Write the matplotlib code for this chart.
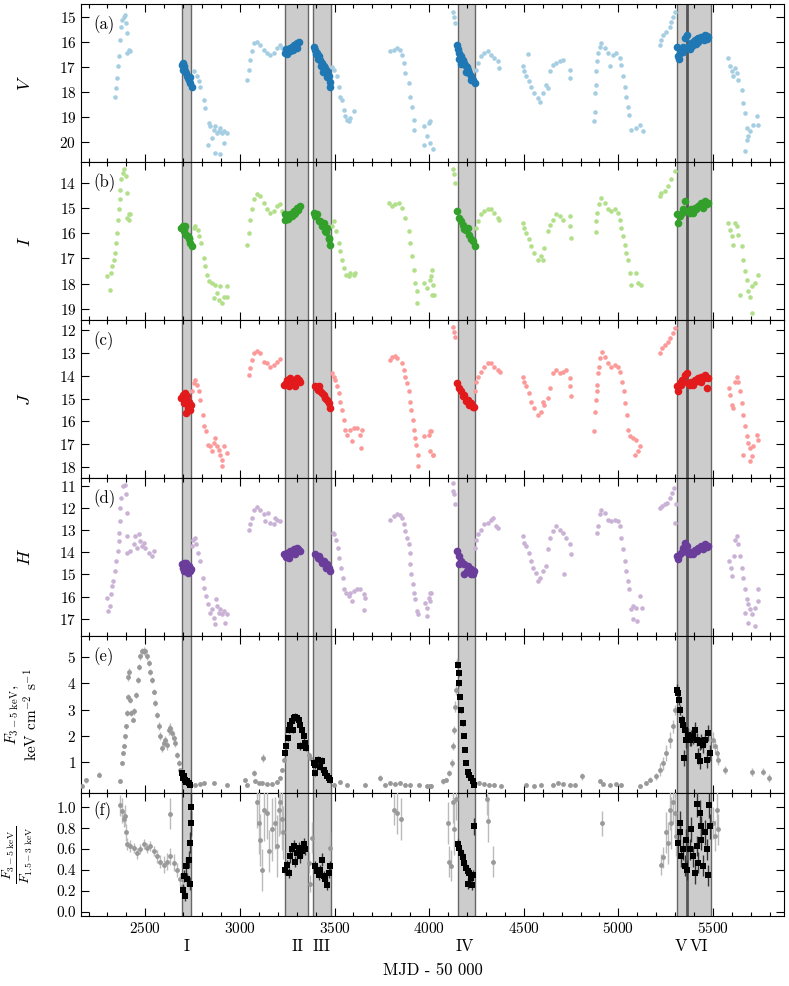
import numpy as np
import matplotlib
matplotlib.use('Agg')
import matplotlib.pyplot as plt
from matplotlib.ticker import MultipleLocator, FormatStrFormatter
import matplotlib.transforms as mtransforms

plt.rcParams['font.family'] = 'cmr10'
plt.rcParams['mathtext.fontset'] = 'cm'
plt.rcParams['axes.formatter.use_mathtext'] = True
plt.rcParams['font.size'] = 11

# ---- shaded intervals (MJD - 50000) ----
regions = [(2694, 2743), (3236, 3359), (3384, 3481), (4150, 4242), (5307, 5489)]
split_line = 5362
region_names = ['I', 'II', 'III', 'IV', 'V', 'VI']
region_pos = [2720, 3305, 3433, 4188, 5333, 5426]

# ---- V band ----
v_t = [2342, 2347, 2351, 2356, 2363, 2368, 2372, 2377, 2386, 2395, 2398, 2404, 2404, 2412, 2421,
       2756, 2773, 2782, 2787, 2809, 2817, 2831, 2835, 2844, 2853, 2861, 2870, 2870, 2879, 2888, 2897, 2897, 2905, 2914, 2914, 2932,
       3037, 3046, 3055, 3064, 3073, 3090, 3108, 3126, 3143, 3161, 3178, 3196, 3214, 3222,
       3487, 3495, 3513, 3522, 3530, 3539, 3548, 3557, 3566, 3575, 3583, 3601,
       3795, 3812, 3830, 3848, 3856, 3865, 3874, 3892, 3900, 3909, 3918, 3922, 3970, 3970, 3988, 3997, 4006, 4006, 4020,
       4124, 4132, 4138,
       4247, 4256, 4274, 4291, 4309, 4327, 4344, 4362, 4371,
       4494, 4503, 4512, 4521, 4530, 4539, 4556, 4574, 4583, 4600, 4618, 4627, 4636, 4653, 4671, 4689, 4706, 4742, 4745,
       4871, 4874, 4878, 4879, 4883, 4886, 4892, 4901, 4909, 4927, 4945, 4954, 4971, 4989, 5007, 5015, 5024, 5033, 5042, 5051, 5056, 5068, 5095, 5113, 5130,
       5219, 5227, 5236, 5254, 5272, 5280, 5289, 5298,
       5581, 5589, 5598, 5607, 5616, 5625, 5634, 5651, 5660, 5669, 5669, 5678, 5678, 5687, 5695, 5713, 5731, 5740]
v_mag = [18.19, 17.86, 17.46, 16.99, 16.59, 15.93, 15.40, 15.13, 15.0, 14.93, 15.27, 15.66, 16.46, 16.33, 16.39,
         17.19, 17.39, 17.59, 17.79, 18.32, 18.65, 20.11, 19.25, 19.38, 19.85, 19.52, 19.38, 20.44, 19.65, 19.58, 19.45, 20.47, 19.65, 19.58, 20.05, 19.65,
         17.52, 17.12, 16.73, 16.39, 16.06, 16.0, 16.13, 16.33, 16.46, 16.53, 16.46, 16.26, 16.13, 16.26,
         17.0, 17.12, 17.39, 17.79, 18.19, 18.32, 18.72, 18.98, 19.12, 19.18, 19.05, 18.78,
         16.39, 16.33, 16.26, 16.33, 16.53, 16.86, 17.26, 17.66, 18.19, 18.59, 19.12, 19.52, 19.38, 20.11, 19.78, 19.25, 19.18, 20.05, 20.29,
         14.8, 15.0, 15.27,
         17.12, 16.86, 16.59, 16.46, 16.39, 16.53, 16.66, 16.79, 17.06,
         16.99, 17.19, 17.39, 16.5, 17.59, 17.79, 18.05, 18.25, 18.39, 18.05, 17.72, 17.86, 17.19, 16.93, 16.86, 16.79, 16.73, 17.12, 17.46,
         19.18, 18.79, 18.05, 17.72, 17.19, 16.79, 16.46, 16.2, 16.06, 16.26, 16.46, 16.99, 16.53, 16.46, 16.66, 16.93, 17.39, 17.79, 18.19, 18.59, 18.92, 19.52, 19.45, 19.32, 19.58,
         16.13, 15.93, 15.73, 15.6, 15.4, 15.2, 15.0, 14.8,
         16.66, 16.99, 17.19, 17.39, 17.06, 17.26, 17.52, 17.92, 18.45, 18.85, 20.38, 19.45, 19.91, 19.78, 19.58, 19.32, 18.98, 19.32]
v_dt = [2694, 2699, 2705, 2712, 2720, 2729, 2738, 2745, 2703, 2716, 2725, 2700, 2735,
        3240, 3248, 3258, 3267, 3276, 3285, 3294, 3303, 3310, 3245, 3265, 3290, 3250, 3280, 3300,
        3390, 3398, 3407, 3416, 3425, 3434, 3443, 3451, 3460, 3469, 3478, 3400, 3430, 3410, 3440, 3460, 3475,
        4145, 4150, 4159, 4168, 4177, 4185, 4194, 4203, 4212, 4221, 4230, 4242, 4160, 4200, 4170, 4195, 4220,
        5310, 5316, 5325, 5333, 5342, 5351, 5360, 5320, 5340,
        5369, 5378, 5386, 5395, 5404, 5413, 5422, 5430, 5439, 5448, 5457, 5466, 5475, 5390, 5420, 5380, 5410, 5450, 5470]
v_dmag = [16.93, 16.86, 17.06, 17.19, 17.39, 17.52, 17.66, 17.79, 16.99, 17.26, 17.46, 17.15, 17.4,
          16.46, 16.39, 16.33, 16.26, 16.2, 16.13, 16.1, 16.06, 16.0, 16.3, 16.39, 16.2, 16.5, 16.35, 16.25,
          16.2, 16.33, 16.46, 16.59, 16.73, 16.86, 16.99, 17.06, 17.19, 17.39, 17.6, 16.5, 16.99, 16.7, 17.2, 17.4, 17.8,
          16.13, 16.3, 16.46, 16.59, 16.73, 16.86, 16.99, 17.12, 17.26, 17.39, 17.52, 17.66, 16.7, 17.0, 16.9, 17.2, 17.55,
          16.2, 16.59, 16.46, 16.33, 16.2, 15.86, 15.73, 16.7, 16.4,
          16.2, 16.13, 16.06, 16.0, 15.93, 15.9, 15.86, 15.86, 15.8, 15.8, 15.73, 15.76, 15.8, 16.16, 16.0, 16.3, 16.1, 15.95, 15.9]

# ---- I band ----
i_t = [2298, 2315, 2319, 2324, 2333, 2342, 2347, 2351, 2356, 2360, 2365, 2368, 2374, 2381, 2389, 2398, 2404, 2404, 2412, 2421, 2412,
       2756, 2765, 2777, 2786, 2795, 2809, 2817, 2826, 2835, 2853, 2870, 2879, 2888, 2905, 2914, 2932, 2897, 2932, 2861,
       3037, 3046, 3055, 3064, 3073, 3090, 3108, 3126, 3143, 3161, 3178, 3196, 3214, 3222,
       3487, 3499, 3509, 3522, 3530, 3539, 3548, 3562, 3583, 3601, 3610, 3575,
       3786, 3804, 3821, 3839, 3856, 3874, 3892, 3900, 3909, 3918, 3923, 3936, 3936, 3970, 3988, 4006, 4015, 4024,
       4009, 4018, 4014, 4124, 4132, 4138,
       4247, 4256, 4274, 4291, 4309, 4327, 4344, 4362, 4371,
       4494, 4503, 4512, 4530, 4539, 4556, 4574, 4592, 4609, 4627, 4636, 4653, 4671, 4689, 4706, 4742, 4745, 4751, 4600,
       4879, 4883, 4889, 4897, 4909, 4927, 4945, 4962, 4980, 4998, 5007, 5015, 5024, 5033, 5042, 5051, 5060, 5068, 5095, 5104, 5121,
       5219, 5227, 5245, 5263, 5280, 5298,
       5581, 5589, 5598, 5607, 5616, 5625, 5634, 5651, 5660, 5669, 5678, 5687, 5695, 5704, 5722, 5740, 5704, 5642]
i_mag = [17.71, 18.27, 17.58, 17.32, 17.05, 16.79, 16.39, 15.99, 15.46, 15.06, 14.66, 14.27, 13.87, 13.6, 13.47, 13.73, 14.4, 15.39, 15.26, 15.26, 15.46,
         15.79, 15.72, 15.86, 16.12, 16.39, 16.98, 17.32, 17.65, 17.91, 17.98, 18.05, 18.38, 18.64, 18.77, 18.51, 18.11, 18.11, 18.51, 18.58,
         16.45, 15.99, 15.46, 15.06, 14.66, 14.46, 14.53, 14.8, 15.06, 15.19, 15.13, 14.93, 14.86, 15.13,
         15.72, 15.53, 15.92, 16.39, 16.72, 17.05, 17.38, 17.65, 17.58, 17.65, 17.58, 17.71,
         14.8, 14.93, 14.86, 14.8, 14.99, 15.39, 15.92, 16.39, 16.92, 17.45, 17.98, 18.31, 18.77, 17.98, 18.18, 17.85, 17.45, 18.44,
         17.71, 18.05, 18.44, 13.47, 13.67, 14.0,
         15.79, 15.53, 15.26, 15.13, 15.03, 15.06, 15.19, 15.39, 15.46,
         15.59, 15.79, 15.99, 16.25, 16.52, 16.79, 17.05, 16.92, 16.59, 15.92, 15.66, 15.46, 15.26, 15.33, 15.46, 15.33, 15.72, 16.19, 17.05,
         15.96, 15.53, 15.19, 14.86, 14.6, 14.8, 15.06, 15.13, 15.06, 15.19, 15.46, 15.79, 16.12, 16.45, 16.79, 17.05, 17.58, 18.05, 17.58, 17.98, 18.05,
         14.53, 14.4, 14.33, 14.13, 13.87, 13.54,
         15.59, 15.86, 16.12, 16.45, 15.59, 15.72, 16.06, 16.52, 17.05, 17.51, 17.85, 18.31, 18.51, 18.11, 17.98, 17.65, 19.17, 18.44]
i_dt = [2691, 2699, 2706, 2717, 2729, 2738, 2747, 2712, 2724, 2704, 2733,
        3236, 3249, 3267, 3284, 3302, 3316, 3240, 3275, 3293, 3255, 3285, 3305,
        3390, 3398, 3416, 3434, 3451, 3469, 3478, 3407, 3443, 3460, 3425, 3455, 3472,
        4145, 4159, 4177, 4194, 4212, 4230, 4242, 4168, 4203, 4185, 4220,
        5310, 5316, 5328, 5342, 5351, 5335,
        5369, 5386, 5404, 5422, 5439, 5457, 5475, 5395, 5448, 5378, 5412, 5466]
i_dmag = [15.79, 15.72, 15.92, 16.06, 16.25, 16.39, 16.52, 15.72, 16.12, 15.85, 16.2,
          15.46, 15.39, 15.26, 15.13, 14.99, 14.93, 15.26, 15.33, 15.19, 15.45, 15.25, 15.1,
          15.19, 15.33, 15.53, 15.72, 15.92, 16.19, 16.45, 15.26, 15.59, 15.79, 15.5, 15.95, 16.25,
          15.13, 15.39, 15.66, 15.86, 16.06, 16.32, 16.52, 15.53, 15.79, 15.85, 16.25,
          15.26, 15.59, 15.33, 15.06, 14.73, 15.2,
          15.13, 15.06, 14.99, 14.93, 14.8, 14.73, 14.8, 15.19, 14.99, 15.2, 15.05, 14.85]

# ---- J band ----
j_t = [2747, 2756, 2765, 2773, 2782, 2791, 2805, 2812, 2823, 2831, 2844, 2853, 2870, 2879, 2888, 2897, 2905, 2914, 2932, 2905, 2861,
       3050, 3055, 3064, 3073, 3090, 3108, 3126, 3143, 3161, 3178, 3196, 3210,
       3487, 3495, 3504, 3513, 3522, 3530, 3539, 3548, 3557, 3566, 3583, 3601, 3619, 3636, 3645, 3640, 3592,
       3795, 3804, 3821, 3830, 3856, 3865, 3874, 3883, 3892, 3900, 3906, 3913, 3918, 3923, 3930, 3939, 3941, 3970, 3997, 4006, 4003, 4020,
       4009, 4018, 4124, 4132, 4138,
       4244, 4247, 4256, 4274, 4291, 4309, 4327, 4344, 4362, 4374,
       4494, 4503, 4512, 4530, 4539, 4556, 4574, 4592, 4609, 4627, 4636, 4653, 4671, 4689, 4706, 4724, 4742, 4745, 4747, 4600,
       4871, 4878, 4883, 4886, 4889, 4892, 4897, 4904, 4915, 4927, 4945, 4962, 4980, 4998, 5010, 5019, 5028, 5037, 5046, 5051, 5060, 5077, 5095, 5113, 5086, 5104,
       5219, 5231, 5245, 5263, 5275, 5289, 5298,
       5586, 5589, 5598, 5607, 5616, 5625, 5634, 5642, 5651, 5660, 5669, 5678, 5687, 5695, 5704, 5713, 5731, 5740, 5660, 5695]
j_mag = [14.69, 14.33, 14.18, 14.4, 14.69, 15.06, 15.71, 16.22, 16.44, 17.02, 17.09, 17.31, 16.73, 17.09, 17.24, 17.46, 17.68, 17.09, 17.39, 17.97, 16.95,
         13.97, 13.67, 13.31, 13.02, 12.9, 13.02, 13.38, 13.46, 13.6, 13.53, 13.38, 13.28,
         13.89, 14.04, 14.18, 14.47, 14.77, 15.13, 15.49, 15.93, 16.37, 16.59, 16.37, 16.29, 16.29, 16.59, 16.37, 17.17, 16.88,
         13.31, 13.16, 13.14, 13.24, 13.46, 13.75, 14.04, 14.33, 14.69, 15.13, 15.49, 15.93, 16.37, 16.73, 17.02, 17.46, 17.97, 16.66, 16.59, 16.44, 17.31, 17.46,
         16.44, 17.46, 11.85, 12.07, 12.29,
         14.69, 14.26, 14.04, 13.82, 13.6, 13.46, 13.43, 13.6, 13.75, 13.82,
         14.04, 14.26, 14.47, 14.77, 15.13, 15.42, 15.71, 15.57, 15.28, 14.98, 14.55, 13.89, 13.75, 13.89, 13.82, 13.75, 14.11, 14.47, 14.91, 15.13,
         16.41, 15.57, 15.06, 14.69, 14.4, 13.89, 13.6, 13.24, 12.95, 13.16, 13.46, 13.6, 13.53, 13.6, 13.82, 14.26, 14.69, 15.2, 15.71, 16.37, 16.66, 16.73, 16.8, 17.09, 17.46, 17.31,
         13.02, 12.8, 12.66, 12.51, 12.36, 12.15, 11.93,
         14.55, 14.84, 15.28, 15.42, 14.26, 14.04, 14.26, 14.69, 15.2, 15.71, 16.22, 16.66, 16.95, 17.17, 17.53, 17.09, 16.59, 16.8, 17.46, 17.75]
j_dt = [2691, 2699, 2712, 2721, 2729, 2738, 2717, 2703, 2742, 2724, 2708, 2730,
        3234, 3249, 3267, 3284, 3302, 3316, 3258, 3293, 3275, 3245, 3310,
        3398, 3411, 3425, 3443, 3460, 3474, 3416, 3451, 3405, 3435, 3468,
        4145, 4155, 4168, 4185, 4203, 4221, 4238, 4177, 4212, 4195, 4230,
        5310, 5316, 5325, 5337, 5351, 5360, 5330,
        5369, 5386, 5404, 5422, 5439, 5457, 5475, 5469, 5395, 5439, 5380, 5415, 5450]
j_dmag = [14.98, 14.84, 14.77, 14.91, 15.13, 15.49, 15.64, 15.2, 15.28, 15.42, 15.05, 15.3,
          14.4, 14.18, 14.11, 14.26, 14.11, 14.26, 14.47, 14.47, 14.33, 14.3, 14.2,
          14.47, 14.62, 14.69, 14.84, 15.06, 15.42, 14.47, 14.98, 14.55, 14.75, 15.2,
          14.33, 14.55, 14.69, 14.84, 15.06, 15.2, 15.38, 14.91, 15.28, 15.1, 15.35,
          14.47, 14.69, 14.33, 14.18, 13.97, 13.89, 14.4,
          14.33, 14.26, 14.18, 14.11, 14.04, 13.97, 14.11, 14.55, 14.4, 14.26, 14.4, 14.25, 14.1]

# ---- H band ----
h_t = [2298, 2301, 2312, 2319, 2324, 2330, 2338, 2347, 2354, 2360, 2363, 2365, 2368, 2372, 2381, 2391, 2398, 2404, 2404, 2404,
       2421, 2439, 2448, 2465, 2474, 2483, 2492, 2500, 2518, 2536, 2544, 2456,
       2747, 2752, 2761, 2770, 2777, 2787, 2805, 2812, 2823, 2831, 2840, 2853, 2861, 2867, 2879, 2888, 2897, 2905, 2914, 2932, 2923, 2875,
       3050, 3055, 3064, 3076, 3090, 3108, 3126, 3134, 3147, 3161, 3178, 3196, 3214, 3187,
       3490, 3499, 3508, 3516, 3525, 3534, 3543, 3552, 3562, 3575, 3583, 3601, 3619, 3636, 3654, 3663, 3654, 3592,
       3795, 3812, 3830, 3848, 3856, 3865, 3874, 3883, 3892, 3897, 3900, 3906, 3913, 3918, 3927, 3936, 3941, 3979, 3997, 4006, 3988, 3988,
       4009, 4005, 4124, 4127, 4132, 4138,
       4244, 4247, 4256, 4274, 4291, 4309, 4327, 4335, 4353, 4362,
       4494, 4500, 4512, 4530, 4539, 4551, 4565, 4583, 4600, 4618, 4627, 4636, 4653, 4671, 4689, 4706, 4724, 4742, 4747, 4712, 4574,
       4889, 4892, 4901, 4909, 4927, 4945, 4962, 4980, 4998, 5007, 5015, 5024, 5033, 5042, 5051, 5056, 5068, 5077, 5095, 5116, 5127, 5077, 5099,
       5219, 5231, 5245, 5257, 5272, 5284, 5295, 5303, 5301,
       5586, 5595, 5602, 5610, 5616, 5625, 5634, 5642, 5651, 5660, 5669, 5678, 5687, 5695, 5704, 5722, 5740, 5740, 5669, 5687, 5722]
h_mag = [16.04, 16.64, 16.42, 15.9, 15.52, 15.3, 14.85, 14.4, 13.95, 13.5, 13.13, 12.6, 12.0, 11.55, 11.03, 10.96, 11.4, 12.23, 13.28, 14.02,
         13.95, 13.65, 13.28, 13.2, 13.5, 13.72, 13.57, 13.8, 14.02, 14.17, 13.95, 13.8,
         13.72, 13.43, 13.35, 13.65, 14.02, 14.4, 15.15, 15.6, 15.97, 16.34, 16.72, 16.57, 16.94, 17.24, 16.42, 16.72, 16.57, 16.79, 16.64, 16.79, 17.17, 16.12,
         12.98, 12.75, 12.45, 12.08, 11.97, 12.08, 12.3, 12.6, 12.23, 12.68, 12.75, 12.57, 12.6, 12.45,
         13.13, 13.2, 13.43, 13.8, 14.25, 14.7, 15.15, 15.67, 15.82, 15.97, 15.82, 15.75, 15.67, 15.67, 15.9, 16.04, 16.6, 16.19,
         12.53, 12.38, 12.3, 12.33, 12.45, 12.75, 13.05, 13.35, 13.65, 14.02, 14.55, 15.0, 15.45, 15.82, 16.12, 16.64, 16.79, 16.27, 16.04, 15.82, 16.49, 16.87,
         15.82, 16.19, 10.88, 11.25, 11.4, 11.85,
         13.8, 13.43, 13.2, 12.98, 12.75, 12.68, 12.53, 12.45, 12.83, 12.9,
         13.28, 13.57, 13.72, 14.02, 14.4, 14.7, 14.92, 15.15, 14.85, 14.62, 13.87, 13.35, 13.05, 12.83, 12.98, 13.13, 13.35, 13.65, 14.1, 15.0, 15.3,
         13.13, 12.83, 12.3, 12.08, 12.23, 12.53, 12.6, 12.53, 12.6, 12.83, 13.35, 13.87, 14.4, 14.85, 15.3, 15.67, 16.57, 16.42, 16.49, 15.97, 16.49, 17.02, 17.09,
         12.0, 11.93, 11.85, 11.78, 11.55, 11.33, 11.1, 11.85, 12.68,
         14.4, 14.7, 15.07, 14.17, 13.43, 13.28, 13.65, 14.17, 14.7, 15.15, 15.67, 16.12, 16.34, 16.57, 16.79, 16.49, 15.67, 16.19, 16.72, 17.17, 17.32]
h_dt = [2694, 2703, 2717, 2729, 2742, 2706, 2724, 2699, 2712, 2735,
        3234, 3249, 3267, 3284, 3302, 3316, 3258, 3293, 3245, 3275, 3308,
        3398, 3411, 3425, 3443, 3460, 3478, 3416, 3457, 3435, 3470,
        4145, 4155, 4168, 4185, 4203, 4221, 4238, 4185, 4221, 4159, 4200, 4232,
        5310, 5316, 5328, 5342, 5353, 5360, 5335,
        5369, 5386, 5404, 5422, 5439, 5457, 5475, 5395, 5448, 5378, 5413, 5466]
h_dmag = [14.55, 14.47, 14.47, 14.62, 14.77, 14.85, 14.92, 14.7, 14.6, 14.85,
          14.1, 14.02, 13.95, 13.87, 13.8, 13.95, 14.25, 14.1, 14.2, 14.05, 13.85,
          14.1, 14.25, 14.32, 14.4, 14.55, 14.85, 14.17, 14.73, 14.5, 14.7,
          13.95, 14.17, 14.4, 14.55, 14.62, 14.77, 14.85, 15.0, 15.0, 14.55, 14.85, 15.0,
          14.17, 14.32, 14.1, 13.8, 13.57, 13.72, 14.0,
          14.02, 13.98, 13.92, 13.8, 13.72, 13.65, 13.72, 14.1, 13.87, 14.1, 13.95, 13.78]

# ---- 3-5 keV flux ----
flux_t = [2166, 2189, 2254, 2368, 2377, 2382, 2389, 2395, 2400, 2404, 2407, 2409, 2412, 2418, 2425, 2433, 2442, 2451, 2460, 2467,
          2474, 2483, 2492, 2500, 2509, 2518, 2527, 2536, 2544, 2553, 2562, 2571, 2580, 2588, 2597, 2606, 2615, 2624, 2632, 2641,
          2650, 2659, 2668, 2676, 2685,
          2765, 2791, 2812, 2861, 2932, 3029, 3037, 3073, 3082, 3099, 3117, 3122, 3143, 3170, 3196, 3214, 3222, 3231,
          3363, 3372, 3495, 3530, 3566, 3663, 3742, 3768, 3795, 3821, 3848, 3874, 3900, 3944, 3988, 4006,
          4009, 4071, 4088, 4106, 4120, 4127, 4132, 4138, 4141, 4145,
          4265, 4291, 4318, 4344, 4380, 4512, 4556, 4592, 4653, 4680, 4706, 4742, 4768, 4807, 4901, 4918, 4954, 4989, 5015,
          5113, 5148, 5166, 5201, 5219, 5236, 5254, 5272, 5286, 5298,
          5501, 5510, 5519, 5528, 5563, 5704, 5766, 5798]
flux = [0.07, 0.3, 0.52, 0.26, 0.96, 1.34, 1.6, 1.98, 2.36, 2.87, 3.5, 4.26, 4.45, 3.37, 2.87, 2.61, 2.93, 3.57, 4.14, 4.64,
        5.03, 5.22, 5.25, 5.22, 5.03, 4.77, 4.45, 4.14, 3.69, 3.25, 2.8, 2.36, 1.98, 1.53, 1.72, 1.85, 1.66, 2.23, 2.3, 2.1,
        1.91, 1.72, 1.28, 0.96, 0.71,
        0.14, 0.17, 0.2, 0.2, 0.14, 0.33, 0.14, 0.58, 0.26, 0.2, 0.2, 1.15, 0.17, 0.17, 0.23, 0.39, 0.71, 1.09,
        1.28, 1.15, 0.14, 0.23, 0.14, 0.14, 0.39, 0.14, 0.2, 0.17, 0.2, 0.14, 0.14, 0.14, 0.1, 0.1,
        0.07, 0.26, 0.33, 0.58, 0.96, 1.6, 2.23, 3.12, 3.76, 4.77,
        0.2, 0.17, 0.14, 0.14, 0.1, 0.14, 0.1, 0.14, 0.14, 0.2, 0.17, 0.14, 0.14, 0.45, 0.26, 0.17, 0.14, 0.17, 0.14,
        0.07, 0.2, 0.33, 0.45, 0.71, 0.96, 1.34, 1.85, 2.36, 2.99,
        1.85, 1.6, 1.34, 1.09, 0.71, 0.61, 0.64, 0.39]
flux_err = [0.05, 0.1, 0.1, 0.05, 0.08, 0.08, 0.08, 0.1, 0.1, 0.1, 0.1, 0.15, 0.15, 0.1, 0.1, 0.1, 0.12, 0.12, 0.12, 0.12,
            0.12, 0.15, 0.15, 0.15, 0.12, 0.12, 0.12, 0.12, 0.1, 0.1, 0.1, 0.15, 0.15, 0.15, 0.15, 0.15, 0.2, 0.2, 0.2, 0.2,
            0.2, 0.15, 0.12, 0.1, 0.08,
            0.05, 0.05, 0.05, 0.05, 0.05, 0.08, 0.05, 0.1, 0.05, 0.05, 0.05, 0.15, 0.05, 0.05, 0.05, 0.05, 0.08, 0.1,
            0.1, 0.1, 0.05, 0.05, 0.05, 0.05, 0.12, 0.05, 0.05, 0.05, 0.05, 0.05, 0.05, 0.05, 0.05, 0.05,
            0.05, 0.08, 0.08, 0.1, 0.15, 0.15, 0.15, 0.2, 0.2, 0.2,
            0.05, 0.05, 0.05, 0.05, 0.05, 0.05, 0.05, 0.05, 0.05, 0.05, 0.05, 0.05, 0.05, 0.12, 0.05, 0.05, 0.05, 0.05, 0.05,
            0.05, 0.08, 0.1, 0.12, 0.25, 0.25, 0.3, 0.3, 0.25, 0.2,
            0.3, 0.25, 0.25, 0.2, 0.15, 0.15, 0.15, 0.15]
flux_dt = [2694, 2703, 2712, 2721, 2729, 2738, 2699, 2717,
           3240, 3245, 3252, 3259, 3267, 3275, 3284, 3293, 3302, 3310, 3319, 3328, 3337, 3346, 3351, 3280, 3319,
           3390, 3398, 3411, 3421, 3434, 3443, 3451, 3460, 3469, 3478, 3398,
           4150, 4155, 4159, 4164, 4170, 4177, 4182, 4187, 4194, 4203, 4212, 4221, 4230, 4238,
           5307, 5316, 5321, 5328, 5335, 5342, 5351, 5346, 5356,
           5369, 5377, 5386, 5395, 5404, 5413, 5422, 5430, 5439, 5448, 5457, 5466, 5475, 5430, 5483]
flux_d = [0.58, 0.45, 0.33, 0.26, 0.2, 0.14, 0.39, 0.23,
          1.34, 1.6, 1.91, 2.23, 2.42, 2.55, 2.68, 2.71, 2.68, 2.61, 2.42, 2.23, 1.98, 1.72, 1.53, 2.23, 1.6,
          0.96, 0.9, 1.09, 0.83, 1.03, 0.71, 0.58, 0.45, 0.39, 0.3, 0.58,
          4.71, 4.39, 4.01, 3.5, 2.99, 2.49, 1.98, 1.47, 0.96, 0.64, 0.52, 0.39, 0.26, 0.14,
          3.76, 3.63, 3.37, 2.99, 2.61, 2.42, 2.23, 1.15, 1.85,
          2.04, 1.85, 1.91, 1.98, 2.23, 1.85, 1.22, 1.72, 1.79, 1.66, 1.85, 1.09, 2.1, 1.03, 1.34]
flux_derr = [0.05, 0.05, 0.05, 0.05, 0.05, 0.05, 0.05, 0.05,
             0.1, 0.1, 0.1, 0.12, 0.12, 0.12, 0.15, 0.15, 0.15, 0.15, 0.15, 0.12, 0.12, 0.1, 0.1, 0.12, 0.15,
             0.15, 0.15, 0.15, 0.15, 0.15, 0.1, 0.1, 0.1, 0.08, 0.08, 0.1,
             0.1, 0.1, 0.1, 0.1, 0.1, 0.1, 0.08, 0.08, 0.08, 0.08, 0.05, 0.05, 0.05, 0.05,
             0.2, 0.2, 0.2, 0.2, 0.2, 0.25, 0.25, 0.3, 0.3,
             0.25, 0.25, 0.3, 0.3, 0.3, 0.25, 0.3, 0.25, 0.3, 0.3, 0.25, 0.3, 0.3, 0.3, 0.3]

# ---- hardness ratio F(3-5 keV)/F(1.5-3 keV) ----
ratio_t = [2368, 2377, 2386, 2394, 2400, 2403, 2421, 2438, 2456, 2474, 2491, 2509, 2526, 2544, 2562, 2579, 2597, 2615, 2632, 2632,
           2650, 2667, 2685, 2694,
           3090, 3099, 3108, 3116, 3125, 3143, 3152, 3169, 3187, 3196, 3205, 3213, 3222, 3227,
           3363, 3372, 3380, 3477, 3812, 3830, 3850,
           4097, 4106, 4115, 4124, 4132, 4141, 4304, 4309, 4335, 4915,
           5227, 5236, 5254, 5263, 5272, 5280, 5289, 5298, 5303,
           5501, 5510, 5519, 5528]
ratio = [1.02, 0.97, 0.89, 0.92, 0.76, 0.65, 0.63, 0.61, 0.56, 0.6, 0.65, 0.61, 0.63, 0.58, 0.53, 0.48, 0.45, 0.48, 0.94, 0.53,
         0.47, 0.4, 0.31, 0.24,
         1.05, 0.85, 0.69, 0.4, 0.98, 0.95, 0.58, 0.79, 0.85, 0.63, 0.98, 1.05, 0.89, 0.76,
         0.47, 0.27, 0.71, 0.61, 0.98, 0.95, 0.89,
         0.85, 0.48, 0.44, 1.05, 0.79, 1.08, 1.08, 0.87, 0.48, 0.85,
         0.45, 0.52, 0.76, 0.66, 0.98, 0.85, 1.05, 0.95, 0.73,
         0.85, 0.73, 0.98, 0.79]
ratio_err = [0.1, 0.12, 0.08, 0.1, 0.08, 0.06, 0.06, 0.05, 0.05, 0.05, 0.05, 0.05, 0.05, 0.05, 0.06, 0.06, 0.08, 0.08, 0.15, 0.08,
             0.08, 0.07, 0.06, 0.05,
             0.25, 0.3, 0.25, 0.2, 0.3, 0.25, 0.2, 0.3, 0.25, 0.3, 0.25, 0.3, 0.3, 0.25,
             0.1, 0.08, 0.15, 0.15, 0.15, 0.2, 0.2,
             0.2, 0.15, 0.15, 0.2, 0.25, 0.2, 0.15, 0.2, 0.15, 0.12,
             0.1, 0.1, 0.2, 0.2, 0.2, 0.25, 0.2, 0.25, 0.2,
             0.15, 0.15, 0.2, 0.15]
ratio_dt = [2699, 2706, 2713, 2720, 2729, 2738, 2741, 2743, 2711, 2734,
            3240, 3248, 3266, 3275, 3284, 3301, 3310, 3319, 3328, 3336, 3345, 3257, 3292,
            3398, 3407, 3416, 3424, 3433, 3442, 3451, 3460, 3468, 3474,
            4150, 4159, 4168, 4177, 4185, 4194, 4203, 4212, 4221, 4230, 4238, 4203, 4226,
            5316, 5325, 5333, 5342, 5351, 5360, 5328, 5356,
            5377, 5386, 5395, 5404, 5413, 5422, 5430, 5439, 5448, 5457, 5466, 5475, 5483, 5480, 5413, 5439]
ratio_d = [0.21, 0.34, 0.44, 0.31, 0.5, 0.66, 0.85, 1.0, 0.15, 0.27,
           0.4, 0.45, 0.53, 0.6, 0.63, 0.56, 0.61, 0.53, 0.58, 0.65, 0.6, 0.37, 0.48,
           0.44, 0.39, 0.35, 0.4, 0.5, 0.34, 0.31, 0.26, 0.37, 0.44,
           0.65, 0.61, 0.56, 0.52, 0.47, 0.42, 0.39, 0.37, 0.32, 0.35, 0.82, 0.27, 0.26,
           0.66, 0.85, 0.53, 0.6, 0.44, 0.4, 0.76, 0.69,
           0.6, 0.79, 0.53, 0.37, 1.03, 0.47, 0.95, 0.69, 0.44, 0.76, 0.6, 0.35, 0.82, 1.02, 0.63, 0.82]
ratio_derr = [0.06, 0.06, 0.08, 0.06, 0.08, 0.1, 0.12, 0.15, 0.05, 0.06,
              0.05, 0.05, 0.06, 0.06, 0.06, 0.06, 0.06, 0.06, 0.06, 0.06, 0.06, 0.05, 0.05,
              0.05, 0.05, 0.05, 0.05, 0.06, 0.05, 0.05, 0.05, 0.05, 0.05,
              0.05, 0.05, 0.05, 0.05, 0.05, 0.05, 0.05, 0.05, 0.05, 0.05, 0.08, 0.05, 0.05,
              0.1, 0.12, 0.1, 0.1, 0.1, 0.1, 0.12, 0.1,
              0.1, 0.12, 0.1, 0.1, 0.12, 0.1, 0.12, 0.1, 0.1, 0.12, 0.1, 0.1, 0.12, 0.12, 0.1, 0.1]

# colours (Paired palette)
bands = [
    ('$V$', v_t, v_mag, v_dt, v_dmag, '#a6cee3', '#1f78b4', (20.8, 14.5), '(a)'),
    ('$I$', i_t, i_mag, i_dt, i_dmag, '#b2df8a', '#33a02c', (19.44, 13.18), '(b)'),
    ('$J$', j_t, j_mag, j_dt, j_dmag, '#fb9a99', '#e31a1c', (18.48, 11.56), '(c)'),
    ('$H$', h_t, h_mag, h_dt, h_dmag, '#cab2d6', '#6a3d9a', (17.77, 10.66), '(d)'),
]

fig = plt.figure(figsize=(7.89, 9.86), dpi=100)
gs = fig.add_gridspec(6, 1, height_ratios=[158, 158, 158, 158, 157, 123], hspace=0,
                      left=81/789, right=784/789, top=1-4/986, bottom=1-916/986)
axes = [fig.add_subplot(gs[k]) for k in range(6)]

for ax in axes:
    ax.set_xlim(2160, 5875)
    for (a, b) in regions:
        ax.axvspan(a, b, facecolor='#cccccc', edgecolor='none', zorder=0)
        ax.axvline(a, color='#666666', lw=1.0, zorder=1)
        ax.axvline(b, color='#666666', lw=1.0, zorder=1)
    ax.axvline(split_line, color='#555555', lw=2.0, zorder=1)
    ax.xaxis.set_major_locator(MultipleLocator(500))
    ax.xaxis.set_minor_locator(MultipleLocator(100))
    ax.tick_params(which='both', direction='in', top=True, right=True)
    ax.tick_params(which='major', length=6, width=0.8)
    ax.tick_params(which='minor', length=3, width=0.8)
    ax.tick_params(axis='both', labelsize=11)
    if ax is not axes[-1]:
        ax.tick_params(labelbottom=False)

for ax, (lab, t, m, dt, dm, c_light, c_dark, ylim, tag) in zip(axes[:4], bands):
    ax.plot(t, m, 'o', color=c_light, ms=3.3, mew=0, zorder=3)
    ax.plot(dt, dm, 'o', color=c_dark, ms=5.5, mew=0, zorder=4)
    ax.set_ylim(*ylim)
    ax.yaxis.set_major_locator(MultipleLocator(1))
    ax.set_ylabel(lab, fontsize=13)
    ax.yaxis.set_label_coords(-0.068, 0.5)
    ax.text(0.018, 0.93, tag, transform=ax.transAxes, fontsize=12, va='top')

# X-ray flux
ax = axes[4]
ax.errorbar(flux_t, flux, yerr=flux_err, fmt='o', color='#999999', ecolor='#bbbbbb',
            ms=3.5, mew=0, elinewidth=1, zorder=3)
ax.errorbar(flux_dt, flux_d, yerr=flux_derr, fmt='s', color='black', ecolor='#333333',
            ms=4, mew=0, elinewidth=1, zorder=4)
ax.set_ylim(-0.18, 5.81)
ax.set_yticks([1, 2, 3, 4, 5])
ax.set_ylabel('$F_{3-5\\ \\mathrm{keV}}$,\nkeV cm$^{-2}$ s$^{-1}$', fontsize=11, linespacing=1.1)
ax.yaxis.set_label_coords(-0.058, 0.5)
ax.text(0.018, 0.93, '(e)', transform=ax.transAxes, fontsize=12, va='top')

# hardness ratio
ax = axes[5]
ax.errorbar(ratio_t, ratio, yerr=ratio_err, fmt='o', color='#999999', ecolor='#bbbbbb',
            ms=3.5, mew=0, elinewidth=1, zorder=3)
ax.errorbar(ratio_dt, ratio_d, yerr=ratio_derr, fmt='s', color='black', ecolor='#333333',
            ms=4, mew=0, elinewidth=1, zorder=4)
ax.set_ylim(-0.042, 1.139)
ax.yaxis.set_major_locator(MultipleLocator(0.2))
ax.yaxis.set_major_formatter(FormatStrFormatter('%.1f'))
ax.set_ylabel('$\\frac{F_{3-5\\ \\mathrm{keV}}}{F_{1.5-3\\ \\mathrm{keV}}}$', fontsize=14)
ax.yaxis.set_label_coords(-0.065, 0.5)
ax.text(0.018, 0.93, '(f)', transform=ax.transAxes, fontsize=12, va='top')

trans = mtransforms.blended_transform_factory(ax.transData, ax.transAxes)
for name, xp in zip(region_names, region_pos):
    ax.text(xp, -0.25, name, transform=trans, ha='center', va='center', fontsize=12)

fig.text(432.5/789, 1-970/986, 'MJD - 50 000', ha='center', va='center', fontsize=12)

plt.savefig('out.png', dpi=100)
